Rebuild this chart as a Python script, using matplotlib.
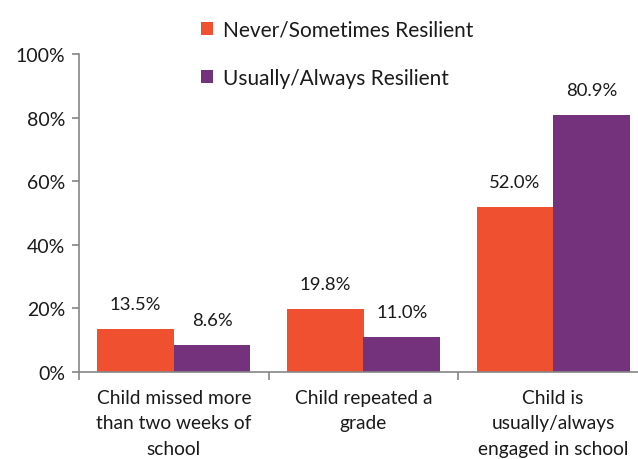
import numpy as np
import matplotlib.pyplot as plt
from matplotlib.ticker import FixedLocator, PercentFormatter

# data
categories = ['Child missed more\nthan two weeks of\nschool',
              'Child repeated a\ngrade',
              'Child is\nusually/always\nengaged in school']
never_sometimes = [13.5, 19.8, 52.0]
usually_always = [8.6, 11.0, 80.9]
series_names = ['Never/Sometimes Resilient', 'Usually/Always Resilient']

orange = '#EF5030'
purple = '#74327C'
grey = '#868686'

plt.rcParams['font.family'] = ['Lato', 'DejaVu Sans']

fig = plt.figure(figsize=(6.38, 4.6), dpi=100)
# axes run off the right edge, like the original crop
ax = fig.add_axes([79 / 638, 1 - 373 / 460, 569 / 638, 318 / 460])

x = np.arange(len(categories))
w = 0.404
b1 = ax.bar(x - w / 2, never_sometimes, w, color=orange, label=series_names[0])
b2 = ax.bar(x + w / 2, usually_always, w, color=purple, label=series_names[1])

for bars, vals in ((b1, never_sometimes), (b2, usually_always)):
    for r, v in zip(bars, vals):
        ax.annotate(f'{v:.1f}%', (r.get_x() + r.get_width() / 2, v),
                    xytext=(0, 12), textcoords='offset points',
                    ha='center', va='bottom', fontsize=13.3, color='#1a1a1a')

ax.set_xlim(-0.5, len(categories) - 0.5)
ax.set_ylim(0, 100)
ax.yaxis.set_major_locator(FixedLocator([0, 20, 40, 60, 80, 100]))
ax.yaxis.set_major_formatter(PercentFormatter(decimals=0))

ax.set_xticks(x)
ax.set_xticklabels(categories, fontsize=13.8, color='#1a1a1a', linespacing=1.62)
ax.tick_params(axis='x', length=0, pad=12)
ax.set_xticks(np.arange(len(categories) + 1) - 0.5, minor=True)
ax.tick_params(axis='x', which='minor', length=6, color=grey, width=1.2)
ax.tick_params(axis='y', length=5, color=grey, width=1.2, labelsize=14,
               labelcolor='#1a1a1a', pad=5)

for s in ('top', 'right'):
    ax.spines[s].set_visible(False)
for s in ('left', 'bottom'):
    ax.spines[s].set_color(grey)
    ax.spines[s].set_linewidth(1.2)

leg = fig.legend(handles=[b1, b2], loc='upper left', bbox_to_anchor=(182 / 638, 1 - 2 / 460),
                 frameon=False, fontsize=15, handlelength=0.6, handleheight=0.6,
                 handletextpad=0.45, labelspacing=1.35)
for t in leg.get_texts():
    t.set_color('#1a1a1a')

fig.savefig('out.png', dpi=100)
